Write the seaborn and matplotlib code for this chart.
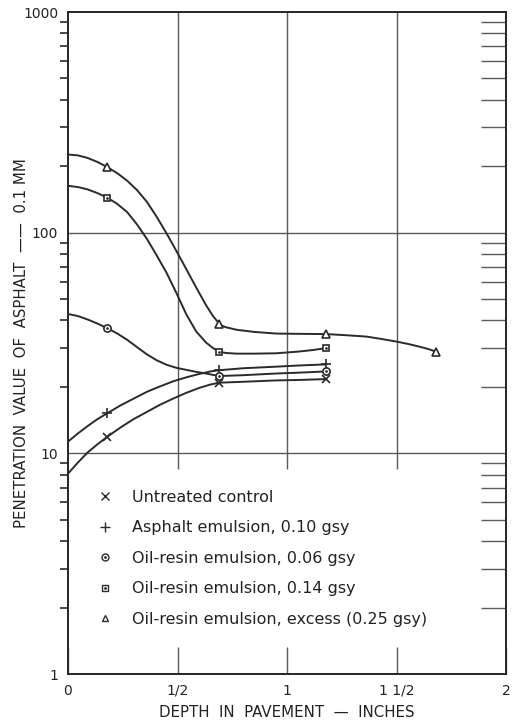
import matplotlib
matplotlib.use("Agg")
import matplotlib.pyplot as plt
import seaborn as sns
import pandas as pd
from matplotlib.lines import Line2D
from matplotlib.legend_handler import HandlerTuple
from matplotlib.ticker import FixedLocator, FixedFormatter, LogLocator, NullFormatter, NullLocator

# ---------------- data ----------------
series_labels = [
    "Untreated control",
    "Asphalt emulsion, 0.10 gsy",
    "Oil-resin emulsion, 0.06 gsy",
    "Oil-resin emulsion, 0.14 gsy",
    "Oil-resin emulsion, excess (0.25 gsy)",
]

# traced smooth curves (depth in inches, penetration 0.1 mm)
curve_x_untreated = [0.0, 0.045, 0.09, 0.135, 0.18, 0.24, 0.30, 0.36, 0.42, 0.48,
                     0.54, 0.60, 0.65, 0.69, 0.8, 0.95, 1.05, 1.18]
curve_y_untreated = [8.09, 9.08, 10.1, 11.0, 11.9, 13.1, 14.3, 15.4, 16.6, 17.7,
                     18.8, 19.8, 20.5, 20.9, 21.1, 21.4, 21.5, 21.7]

curve_x_asphalt = [0.0, 0.045, 0.09, 0.135, 0.18, 0.24, 0.30, 0.36, 0.42, 0.48,
                   0.54, 0.60, 0.65, 0.69, 0.8, 0.95, 1.05, 1.18]
curve_y_asphalt = [11.3, 12.3, 13.3, 14.3, 15.2, 16.5, 17.7, 19.0, 20.1, 21.2,
                   22.1, 22.9, 23.5, 23.8, 24.3, 24.7, 25.0, 25.3]

curve_x_oil06 = [0.0, 0.045, 0.09, 0.135, 0.18, 0.225, 0.27, 0.315, 0.36, 0.405,
                 0.45, 0.495, 0.54, 0.585, 0.63, 0.69, 0.8, 0.95, 1.05, 1.18]
curve_y_oil06 = [42.8, 41.9, 40.4, 38.7, 36.9, 34.9, 32.7, 30.3, 28.1, 26.4,
                 25.2, 24.4, 23.9, 23.4, 23.0, 22.4, 22.6, 23.0, 23.2, 23.5]

curve_x_oil14 = [0.0, 0.045, 0.09, 0.135, 0.18, 0.225, 0.27, 0.315, 0.36, 0.405,
                 0.45, 0.495, 0.54, 0.585, 0.63, 0.66, 0.69, 0.72, 0.77, 0.85,
                 0.95, 1.05, 1.12, 1.18]
curve_y_oil14 = [163, 161, 157, 151, 144, 135, 124, 109, 93.8, 78.9,
                 65.8, 53.3, 42.7, 35.7, 31.8, 30.1, 28.9, 28.5, 28.3, 28.3,
                 28.4, 28.9, 29.4, 30.0]

curve_x_excess = [0.0, 0.045, 0.09, 0.135, 0.18, 0.225, 0.27, 0.315, 0.36, 0.405,
                  0.45, 0.495, 0.54, 0.585, 0.63, 0.66, 0.69, 0.705, 0.72, 0.77,
                  0.85, 0.95, 1.05, 1.18, 1.27, 1.364, 1.43, 1.50, 1.56, 1.607,
                  1.645, 1.68]
curve_y_excess = [226, 224, 218, 209, 198, 186, 172, 156, 138, 118,
                  99.3, 82.6, 68.4, 56.5, 47.0, 42.2, 38.7, 37.8, 37.3, 36.3,
                  35.5, 34.9, 34.8, 34.7, 34.3, 33.8, 33.0, 32.1, 31.2, 30.4,
                  29.7, 28.9]

# measured points (markers)
pts_x_untreated = [0.18, 0.69, 1.18]
pts_y_untreated = [11.9, 20.9, 21.7]
pts_x_asphalt = [0.18, 0.69, 1.18]
pts_y_asphalt = [15.2, 23.8, 25.3]
pts_x_oil06 = [0.18, 0.69, 1.18]
pts_y_oil06 = [36.9, 22.4, 23.5]
pts_x_oil14 = [0.18, 0.69, 1.18]
pts_y_oil14 = [144, 28.9, 30.0]
pts_x_excess = [0.18, 0.69, 1.18, 1.68]
pts_y_excess = [198, 38.7, 34.7, 28.9]

x_ticks = [0, 0.5, 1, 1.5, 2]
x_ticklabels = ["0", "1/2", "1", "1 1/2", "2"]
y_ticks = [1, 10, 100, 1000]
y_ticklabels = ["1", "10", "100", "1000"]

# ---------------- style ----------------
sns.set_theme(style="ticks")
plt.rcParams["font.family"] = ["DejaVu Sans"]
ink = "#2a2a2a"
grid_c = "#5a5a5a"

fig = plt.figure(figsize=(5.16, 7.22), dpi=100)
ax = fig.add_axes([68 / 516, 1 - 674 / 722, 438 / 516, 662 / 722])
ax.set_yscale("log")
ax.set_xlim(0, 2)
ax.set_ylim(1, 1000)

# twin axes carrying only the decorative minor ticks
ax_r = ax.twinx()
ax_l = ax.twinx()
for tw in (ax_r, ax_l):
    tw.set_yscale("log")
    tw.set_ylim(1, 1000)
    tw.yaxis.set_major_locator(NullLocator())
    tw.yaxis.set_minor_locator(LogLocator(base=10, subs=[2, 3, 4, 5, 6, 7, 8, 9],
                                          numticks=20))
    tw.yaxis.set_minor_formatter(NullFormatter())
    tw.set_ylabel("")
ax_r.yaxis.set_ticks_position("right")
ax_r.tick_params(axis="y", which="minor", direction="in", length=18, width=1.0,
                 color=grid_c)
ax_l.yaxis.set_ticks_position("left")
ax_l.tick_params(axis="y", which="minor", direction="out", length=6, width=1.2,
                 color=ink, left=True, right=False, labelleft=False)

# grid: vertical lines stop above the legend area
ax.vlines([0.5, 1.0, 1.5], 8.5, 1000, color=grid_c, lw=1.0, zorder=1)
for yv in [10, 100]:
    ax.axhline(yv, color=grid_c, lw=1.0, zorder=1)

curves = [
    (curve_x_untreated, curve_y_untreated),
    (curve_x_asphalt, curve_y_asphalt),
    (curve_x_oil06, curve_y_oil06),
    (curve_x_oil14, curve_y_oil14),
    (curve_x_excess, curve_y_excess),
]
points = [
    (pts_x_untreated, pts_y_untreated),
    (pts_x_asphalt, pts_y_asphalt),
    (pts_x_oil06, pts_y_oil06),
    (pts_x_oil14, pts_y_oil14),
    (pts_x_excess, pts_y_excess),
]
markers = ["x", "+", "o", "s", "^"]
msizes = [5.5, 7, 5.2, 4.8, 5.5]

for (cx, cy), lab in zip(curves, series_labels):
    df = pd.DataFrame({"depth": cx, "pen": cy})
    sns.lineplot(data=df, x="depth", y="pen", ax=ax, color=ink, lw=1.4,
                 sort=False, legend=False, zorder=3)

for (px, py), m, ms in zip(points, markers, msizes):
    df = pd.DataFrame({"depth": px, "pen": py})
    sns.lineplot(data=df, x="depth", y="pen", ax=ax, linestyle="none",
                 marker=m, markersize=ms, markerfacecolor="white",
                 markeredgecolor=ink, markeredgewidth=1.2, color=ink,
                 legend=False, zorder=4)
    if m in ("o", "s"):
        sns.lineplot(data=df, x="depth", y="pen", ax=ax, linestyle="none",
                     marker=".", markersize=2.3, color=ink,
                     markeredgecolor=ink, legend=False, zorder=5)

# ---------------- axes ----------------
ax.xaxis.set_major_locator(FixedLocator(x_ticks))
ax.xaxis.set_major_formatter(FixedFormatter(x_ticklabels))
ax.yaxis.set_major_locator(FixedLocator(y_ticks))
ax.yaxis.set_major_formatter(FixedFormatter(y_ticklabels))
ax.yaxis.set_minor_locator(NullLocator())

ax.tick_params(axis="x", which="major", direction="in", length=19.5, width=1.0,
               color=grid_c, labelsize=10, pad=7, bottom=True, top=False,
               labelcolor="#222")
ax.tick_params(axis="y", which="major", length=0, pad=7, labelsize=10,
               left=True, right=False, labelleft=True, labelcolor="#222")

for a in (ax, ax_r, ax_l):
    for sp in a.spines.values():
        sp.set_color(ink)
        sp.set_linewidth(1.4)
        sp.set_visible(True)

ax.set_xlabel("DEPTH  IN  PAVEMENT  —  INCHES", fontsize=10.8, color="#222")
ax.xaxis.set_label_coords(0.5, -0.047)
ax.set_ylabel("PENETRATION  VALUE  OF  ASPHALT  ——  0.1 MM", fontsize=10.8,
              color="#222")
ax.yaxis.set_label_coords(-0.09, 0.5)

# ---------------- legend ----------------
def mk(m, ms):
    return Line2D([], [], linestyle="none", marker=m, markersize=ms,
                  markerfacecolor="white", markeredgecolor=ink,
                  markeredgewidth=1.0, color=ink)

dot = Line2D([], [], linestyle="none", marker=".", markersize=2, color=ink)
handles = [
    mk("x", 5.5),
    mk("+", 7),
    (mk("o", 5), dot),
    (mk("s", 4.5), dot),
    mk("^", 5),
]
leg = ax.legend(handles, series_labels, loc="upper left",
                bbox_to_anchor=(0.033, 0.30), frameon=False, fontsize=11.5,
                handlelength=1.0, handletextpad=1.19, labelspacing=0.97,
                handler_map={tuple: HandlerTuple(ndivide=1)})
for t in leg.get_texts():
    t.set_color("#222")

fig.savefig("out.png", dpi=100)
